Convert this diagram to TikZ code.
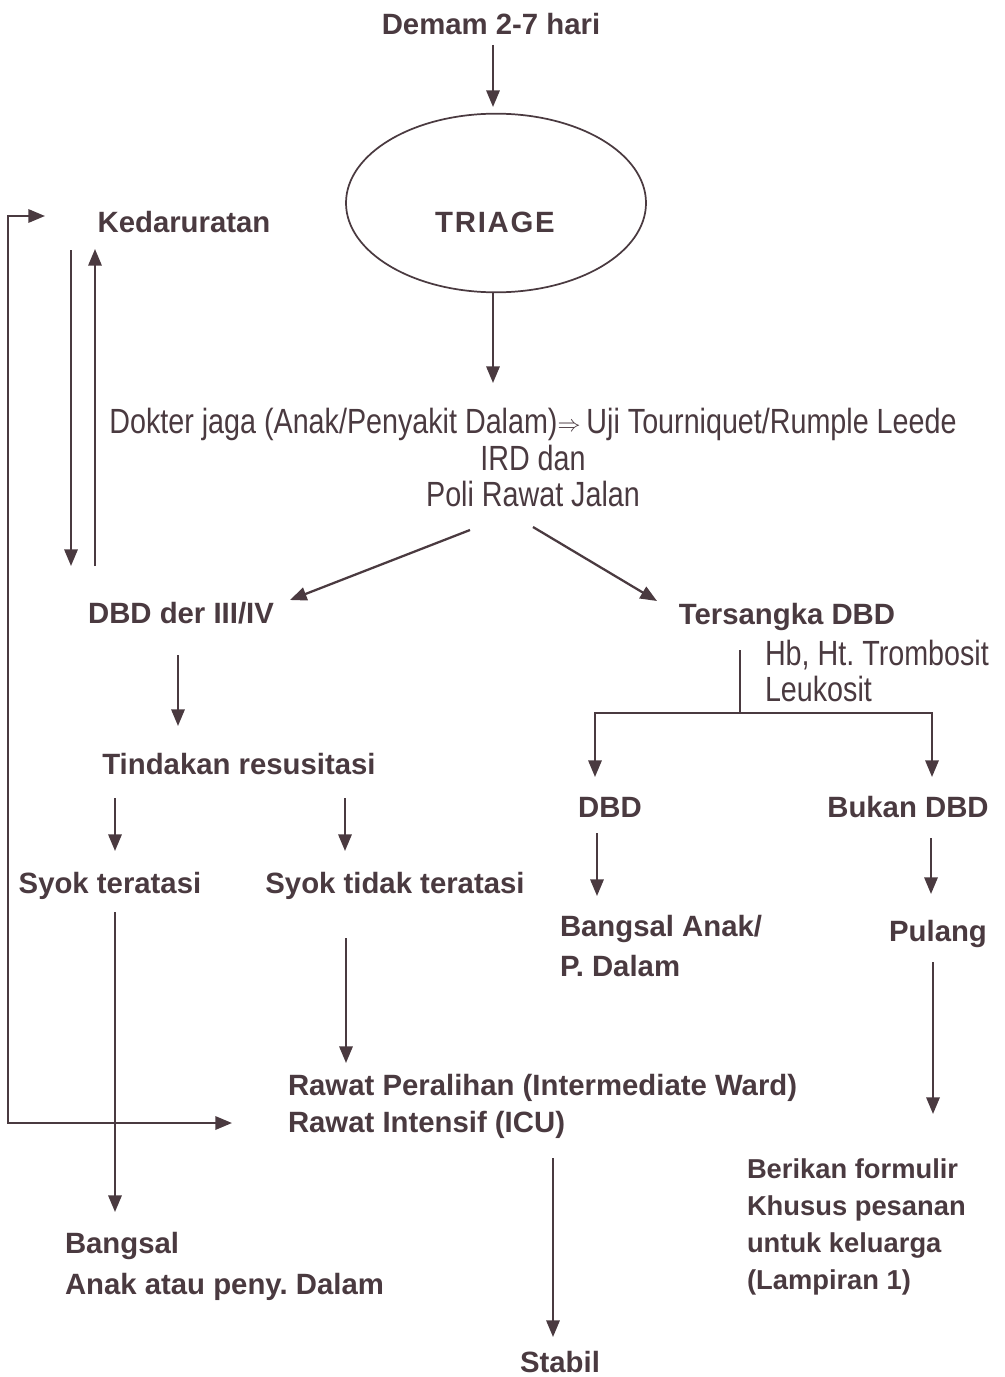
\documentclass[tikz,border=0pt]{standalone}
\usepackage{fontspec}
\setmainfont{Liberation Sans}
\newfontfamily\narrowfont[FakeStretch=0.82]{Liberation Sans}
\usetikzlibrary{arrows.meta,shapes.geometric}
\definecolor{ink}{RGB}{74,58,64}
\frenchspacing
\begin{document}
\begin{tikzpicture}[x=0.75pt,y=-0.75pt,
  every node/.style={inner sep=0pt,outer sep=0pt,text=ink},
  lbl/.style={font=\fontsize{22}{29}\selectfont\bfseries, anchor=base},
  lblw/.style={lbl, anchor=base west},
  note/.style={font=\fontsize{26.25}{36}\narrowfont, anchor=base},
  notew/.style={note, anchor=base west},
  formtxt/.style={font=\fontsize{20.5}{28}\selectfont\bfseries, anchor=base west},
  wire/.style={draw=ink, line width=1.7pt},
  arr/.style={wire, -{Triangle[length=12.5pt,width=10pt]}},
  twoarr/.style={wire, {Triangle[length=12.5pt,width=10pt]}-{Triangle[length=12.5pt,width=10pt]}},
]
\useasboundingbox (0,0) rectangle (1005,1377);

% ---- labels ----
\node[lbl] (demam) at (491,35) {Demam 2-7 hari};
\node[draw=ink, line width=1.3pt, ellipse, minimum width=225pt, minimum height=134pt] (triage) at (496,203) {};
\node[lbl, font=\fontsize{22}{29}\selectfont\bfseries\addfontfeature{LetterSpace=6}] (triagetxt) at (495,232) {TRIAGE};
\node[lbl] (kedar) at (184,232) {Kedaruratan};

\node[note] (dokter) at (533,433) {Dokter jaga (Anak/Penyakit Dalam)\raisebox{1pt}{\fontsize{19}{19}\selectfont$\Rightarrow$}\,Uji Tourniquet/Rumple Leede};
\node[note] (ird) at (533,470) {IRD dan};
\node[note] (poli) at (533,506) {Poli Rawat Jalan};

\node[lbl] (dbdder) at (181,623) {DBD der III/IV};
\node[lbl] (tersangka) at (787,624) {Tersangka DBD};
\node[notew] (hb) at (765,665) {Hb, Ht. Trombosit};
\node[notew] (leuko) at (765,701) {Leukosit};

\node[lbl] (tindakan) at (239,774) {Tindakan resusitasi};
\node[lbl] (syok1) at (110,893) {Syok teratasi};
\node[lbl] (syok2) at (395,893) {Syok tidak teratasi};

\node[lbl] (dbd) at (610,817) {DBD};
\node[lbl] (bukan) at (908,817) {Bukan DBD};
\node[lblw] (bangsalA1) at (560,936) {Bangsal Anak/};
\node[lblw] (bangsalA2) at (560,976) {P. Dalam};
\node[lbl] (pulang) at (938,941) {Pulang};

\node[lblw] (rawat1) at (288,1095) {Rawat Peralihan (Intermediate Ward)};
\node[lblw] (rawat2) at (288,1132) {Rawat Intensif (ICU)};

\node[lblw] (bangsal1) at (65,1253) {Bangsal};
\node[lblw] (bangsal2) at (65,1294) {Anak atau peny. Dalam};
\node[lbl] (stabil) at (560,1372) {Stabil};

\node[formtxt] (form1) at (747,1178) {Berikan formulir};
\node[formtxt] (form2) at (747,1215) {Khusus pesanan};
\node[formtxt] (form3) at (747,1252) {untuk keluarga};
\node[formtxt] (form4) at (747,1289) {(Lampiran 1)};

% ---- connector end points ----
\coordinate (demamS) at (493,45);
\coordinate (triageN) at (493,107);
\coordinate (triageS) at (493,292);
\coordinate (dokterN) at (493,383);
\coordinate (poliL) at (470,530);
\coordinate (dbdderNE) at (290,600);
\coordinate (poliR) at (533,527);
\coordinate (tersangkaNW) at (657,601);
\coordinate (kedarDownA) at (71,250);
\coordinate (kedarDownB) at (71,566);
\coordinate (kedarUpA) at (95,566);
\coordinate (kedarUpB) at (95,249);
\coordinate (loopTop) at (45,216);
\coordinate (loopTL) at (8,216);
\coordinate (loopBL) at (8,1123);
\coordinate (loopEnd) at (232,1123);
\coordinate (dbdderS) at (178,655);
\coordinate (tindakanN) at (178,726);
\coordinate (tindL) at (115,798);
\coordinate (syok1N) at (115,851);
\coordinate (tindR) at (345,798);
\coordinate (syok2N) at (345,851);
\coordinate (syok1S) at (115,912);
\coordinate (bangsalN) at (115,1212);
\coordinate (syok2S) at (346,938);
\coordinate (rawatN) at (346,1063);
\coordinate (rawatS) at (553,1158);
\coordinate (stabilN) at (553,1337);
\coordinate (tersS) at (740,650);
\coordinate (split) at (740,713);
\coordinate (dbdN) at (595,777);
\coordinate (bukanN) at (932,777);
\coordinate (dbdS) at (597,833);
\coordinate (bangsalAN) at (597,896);
\coordinate (bukanS) at (931,838);
\coordinate (pulangN) at (931,894);
\coordinate (pulangS) at (933,962);
\coordinate (formN) at (933,1114);

% ---- connectors ----
\draw[arr] (demamS) -- (triageN);
\draw[arr] (triageS) -- (dokterN);
\draw[arr] (poliL) -- (dbdderNE);
\draw[arr] (poliR) -- (tersangkaNW);
\draw[arr] (kedarDownA) -- (kedarDownB);
\draw[arr] (kedarUpA) -- (kedarUpB);
\draw[twoarr] (loopTop) -- (loopTL) -- (loopBL) -- (loopEnd);
\draw[arr] (dbdderS) -- (tindakanN);
\draw[arr] (tindL) -- (syok1N);
\draw[arr] (tindR) -- (syok2N);
\draw[arr] (syok1S) -- (bangsalN);
\draw[arr] (syok2S) -- (rawatN);
\draw[arr] (rawatS) -- (stabilN);
\draw[wire] (tersS) -- (split);
\draw[arr] (split) -| (dbdN);
\draw[arr] (split) -| (bukanN);
\draw[arr] (dbdS) -- (bangsalAN);
\draw[arr] (bukanS) -- (pulangN);
\draw[arr] (pulangS) -- (formN);
\end{tikzpicture}
\end{document}
